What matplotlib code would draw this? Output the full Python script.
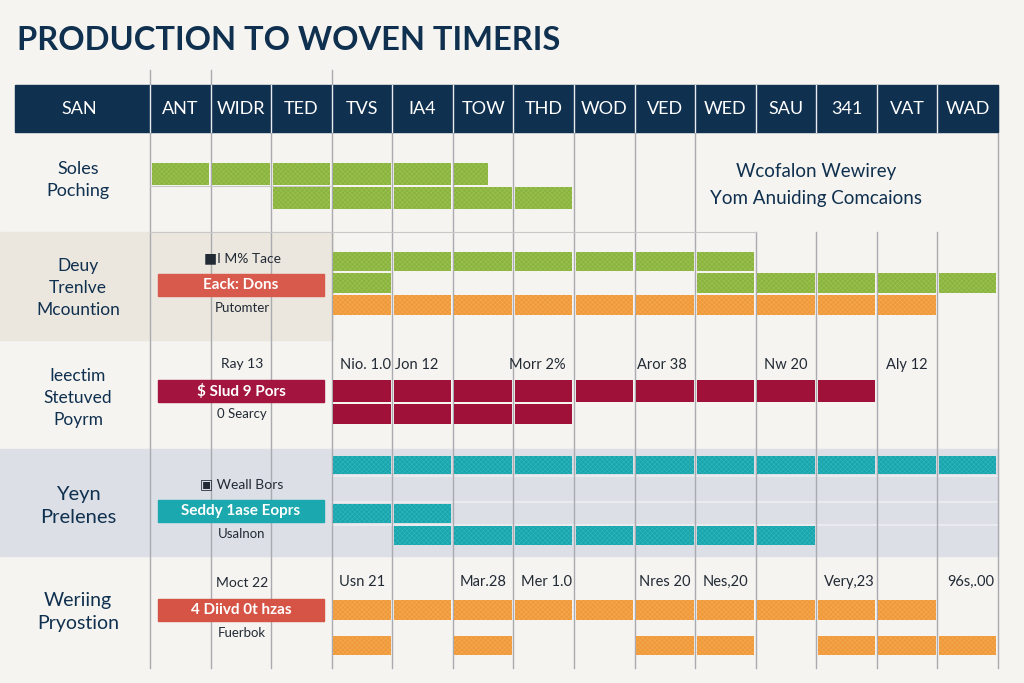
import matplotlib.pyplot as plt
from matplotlib.patches import Rectangle

plt.rcParams['font.family'] = ['Lato', 'DejaVu Sans']

# header columns (SAN is the wide label column)
columns = ['SAN', 'ANT', 'WIDR', 'TED', 'TVS', 'IA4', 'TOW', 'THD', 'WOD',
           'VED', 'WED', 'SAU', '341', 'VAT', 'WAD']

title = 'PRODUCTION TO WOVEN TIMERIS'

# row labels
row_labels = ['Soles\nPoching', 'Deuy\nTrenlve\nMcountion', 'Ieectim\nStetuved\nPoyrm',
              'Yeyn\nPrelenes', 'Weriing\nPryostion']
row_label_sizes = [13, 12.5, 12.5, 14.5, 14]

# tag boxes on the left of rows 2-5
tags = ['Eack: Dons', '$ Slud 9 Pors', 'Seddy 1ase Eoprs', '4 Diivd 0t hzas']
tag_above = ['\u25a0I M% Tace', 'Ray 13', '\u25a3 Weall Bors', 'Moct 22']
tag_below = ['Putomter', '0 Searcy', 'Usalnon', 'Fuerbok']

# milestone dates above rows 3 and 5: (column position, text)
dates_row3 = [(4.55, 'Nio. 1.0'), (5.4, 'Jon 12'), (7.4, 'Morr 2%'),
              (9.45, 'Aror 38'), (11.5, 'Nw 20'), (13.5, 'Aly 12')]
dates_row5 = [(4.5, 'Usn 21'), (6.5, 'Mar.28'), (7.55, 'Mer 1.0'),
              (9.5, 'Nres 20'), (10.5, 'Nes,20'), (12.55, 'Very,23'), (14.55, '96s,.00')]

note = 'Wcofalon Wewirey\nYom Anuiding Comcaions'

# bars: (lane, start column, end column, colour key)
bars = [
    ('r1a', 1, 6.6, 'green'),
    ('r1b', 3, 8, 'green'),
    ('r2a', 4, 11, 'green'),
    ('r2b', 4, 5, 'green'),
    ('r2b', 10, 15, 'green'),
    ('r2c', 4, 14, 'orange'),
    ('r3a', 4, 13, 'crimson'),
    ('r3b', 4, 8, 'crimson'),
    ('r4a', 4, 15, 'teal'),
    ('r4b', 4, 6, 'teal'),
    ('r4c', 5, 12, 'teal'),
    ('r5a', 4, 14, 'orange'),
    ('r5b', 4, 5, 'orange'),
    ('r5b', 6, 7, 'orange'),
    ('r5b', 9, 11, 'orange'),
    ('r5b', 12, 15, 'orange'),
]

colors = {'green': ('#8ab43e', '#9fc457'), 'orange': ('#f0993a', '#f4ad57'),
          'crimson': ('#a0113a', '#a0113a'), 'teal': ('#19a5ad', '#33b9bf')}
tag_colors = ['#d85a4c', '#a3143f', '#1ba8ae', '#d65445']
navy = '#10304f'
bg = '#f5f4f0'

# layout: pixel rows (top, bottom) of each lane
lanes = {'r1a': (163, 185), 'r1b': (187, 209), 'r2a': (252, 271), 'r2b': (273, 293),
         'r2c': (295, 315), 'r3a': (380, 402), 'r3b': (404, 424), 'r4a': (456, 474),
         'r4b': (504, 523), 'r4c': (526, 545), 'r5a': (600, 620), 'r5b': (636, 655)}
row_centers = [180, 288, 398, 506, 612]
tag_centers = [285, 391, 511, 610]
edge_px = 150.0
unit_px = (998 - 150) / 14.0


def cx(px):
    return (px - edge_px) / unit_px + 1


fig = plt.figure(figsize=(10.24, 6.83), dpi=100, facecolor=bg)
ax = fig.add_axes([0, 0, 1, 1])
ax.set_xlim(cx(0), cx(1024))
ax.set_ylim(683, 0)
ax.axis('off')
ax.set_facecolor(bg)

# background bands
ax.add_patch(Rectangle((cx(0), 232), cx(333) - cx(0), 108, color='#ebe6de', zorder=0))
ax.add_patch(Rectangle((cx(0), 449), 15 - cx(0), 107, color='#dcdfe6', zorder=0))
for y in (476, 502, 525):
    ax.plot([4, 15], [y, y], color='#eceef2', lw=1.2, zorder=1)

# vertical grid lines
for i in range(1, 16):
    top = 70 if i in (1, 2, 4) else 85
    if 11 <= i <= 14:
        ax.plot([i, i], [232, 668], color='#a9abb0', lw=1, zorder=1)
        ax.plot([i, i], [top, 132], color='#a9abb0', lw=1, zorder=1)
    else:
        ax.plot([i, i], [top, 668], color='#a9abb0', lw=1, zorder=1)
ax.plot([1, 4], [186, 186], color='#c8c8c8', lw=0.8, zorder=1)
ax.plot([1, 11], [232, 232], color='#c8c8c8', lw=0.8, zorder=1)

# header
ax.add_patch(Rectangle((cx(15), 85), 15 - cx(15), 47, color=navy, zorder=2))
for i in range(1, 15):
    ax.plot([i, i], [85, 132], color='#e8ecf0', lw=1, zorder=3)
ax.text((cx(15) + 1) / 2 - 0.05, 109, columns[0], color='white', fontsize=13,
        ha='center', va='center', zorder=4)
for i, name in enumerate(columns[1:], start=1):
    ax.text(i + 0.5, 109, name, color='white', fontsize=13, ha='center',
            va='center', zorder=4)

ax.text(cx(17), 41, title, color=navy, fontsize=23.5, fontweight='bold',
        ha='left', va='center')

# row labels
for lbl, yc, fs in zip(row_labels, row_centers, row_label_sizes):
    ax.text(cx(78), yc, lbl, color=navy, fontsize=fs, ha='center', va='center',
            linespacing=1.45)

# tags
for i, yc in enumerate(tag_centers):
    ax.add_patch(Rectangle((cx(158), yc - 11), cx(324) - cx(158), 22,
                           color=tag_colors[i], zorder=3))
    ax.text((cx(158) + cx(324)) / 2, yc, tags[i], color='white', fontsize=11,
            fontweight='bold', ha='center', va='center', zorder=4)
    ax.text(cx(242), yc - 27, tag_above[i], color='#222a35', fontsize=10,
            ha='center', va='center', zorder=4)
    ax.text(cx(242), yc + 23, tag_below[i], color='#222a35', fontsize=9.5,
            ha='center', va='center', zorder=4)

for pos, txt in dates_row3:
    ax.text(pos, 365, txt, color='#222a35', fontsize=10.5, ha='center', va='center')
for pos, txt in dates_row5:
    ax.text(pos, 582, txt, color='#222a35', fontsize=10.5, ha='center', va='center')

ax.text(12.0, 185, note, color=navy, fontsize=13.5, ha='center', va='center',
        linespacing=1.7)

# bars, split into segments at the column lines
plt.rcParams['hatch.linewidth'] = 0.35
for lane, start, end, key in bars:
    top, bot = lanes[lane]
    face, hatch_col = colors[key]
    edges = [start] + [e for e in range(int(start) + 1, int(end + 0.999)) if start < e < end] + [end]
    for a, b in zip(edges[:-1], edges[1:]):
        gap = 0.025
        ax.add_patch(Rectangle((a + gap, top), (b - a) - 2 * gap, bot - top,
                               facecolor=face, edgecolor=hatch_col, lw=0,
                               hatch='xxxxxxx' if key != 'crimson' else None, zorder=3))

fig.savefig('out.png', dpi=100, facecolor=bg)
